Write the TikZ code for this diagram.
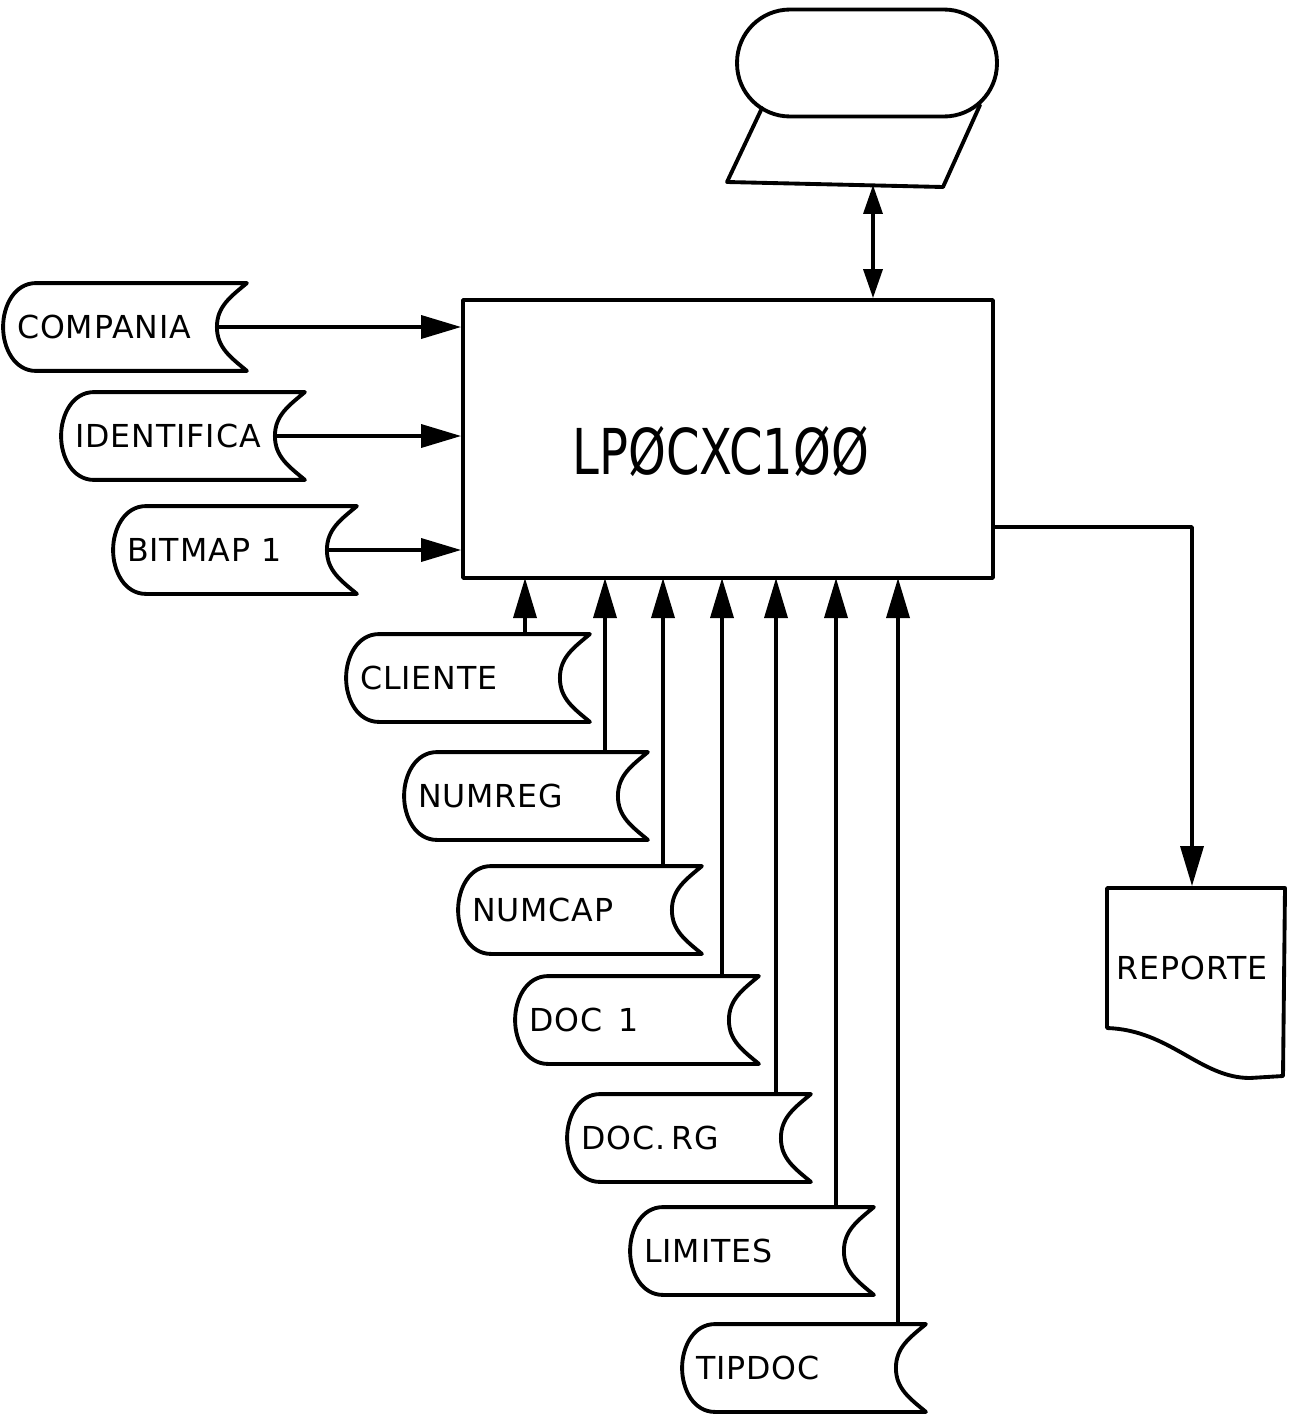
\documentclass[tikz,border=0pt]{standalone}
\usepackage{fontspec}
\usepackage{graphicx}
\newfontfamily\hand[LetterSpace=3]{DejaVu Sans}
\newfontfamily\handc{DejaVu Sans}
\usetikzlibrary{arrows.meta}
\newcommand\mystor[1]{%
 \draw ([xshift=0.66cm]#1.north west) -- (#1.north east)
   to[out=-140,in=90] ([xshift=-0.6cm]#1.east)
   to[out=-90,in=140] (#1.south east)
   -- ([xshift=0.66cm]#1.south west)
   to[out=180,in=-90] (#1.west)
   to[out=90,in=180] ([xshift=0.66cm]#1.north west);}
\begin{document}
\begin{tikzpicture}[x=0.02cm,y=-0.02cm,
  line width=2.2pt, line join=round, line cap=round,
  arr/.style={-{Triangle[length=0.8cm,width=0.46cm]}, line width=2pt},
  darr/.style={{Triangle[length=0.58cm,width=0.38cm]}-{Triangle[length=0.58cm,width=0.38cm]}, line width=2pt},
  stor/.style={minimum height=1.68cm, text width=4.32cm, inner xsep=0.24cm, inner ysep=0pt, align=left, font=\hand\fontsize{18}{20}\selectfont},
]
\useasboundingbox (0,0) rectangle (1295,1420);

% main process box
\node[draw, minimum width=10.6cm, minimum height=5.56cm] (box) at (728,439) {};
\node[font=\handc\fontsize{36}{40}\selectfont] (title) at (721,452) {\scalebox{0.76}[1]{LPØCXC1ØØ}};

% terminal + parallelogram (top)
\draw (762,108) -- (727,182) -- (943,187) -- (980,105);
\node[draw, minimum width=5.2cm, minimum height=2.14cm, rounded corners=1.06cm] (term) at (867,63) {};
\coordinate (pb) at (873,185);
\draw[darr] (pb) -- (box.north -| pb);

% left storages
\node[stor] (compania) at (125,327) {COMPANIA};
\node[stor] (identifica) at (183,436) {IDENTIFICA};
\node[stor] (bitmap) at (235,550) {BITMAP\hspace{0.35em}1};
\mystor{compania}
\mystor{identifica}
\mystor{bitmap}
\draw[arr] ([xshift=-0.6cm]compania.east) -- (compania.east -| box.west);
\draw[arr] ([xshift=-0.6cm]identifica.east) -- (identifica.east -| box.west);
\draw[arr] ([xshift=-0.6cm]bitmap.east) -- (bitmap.east -| box.west);

% bottom storages
\node[stor] (cliente) at (468,678) {CLIENTE};
\node[stor] (numreg) at (526,796) {NUMREG};
\node[stor] (numcap) at (580,910) {NUMCAP};
\node[stor] (doc1) at (637,1020) {DOC\hspace{0.5em}1};
\node[stor] (docrg) at (689,1138) {DOC.\hspace{0.2em}RG};
\node[stor] (limites) at (752,1251) {LIMITES};
\node[stor] (tipdoc) at (804,1368) {TIPDOC};
\foreach \n in {cliente,numreg,numcap,doc1,docrg,limites,tipdoc}{\mystor{\n}}

\coordinate (b1) at (525,578);
\coordinate (b2) at (605,578);
\coordinate (b3) at (663,578);
\coordinate (b4) at (722,578);
\coordinate (b5) at (776,578);
\coordinate (b6) at (836,578);
\coordinate (b7) at (898,578);
\draw[arr] (cliente.north -| b1) -- (b1);
\draw[arr] (numreg.north -| b2) -- (b2);
\draw[arr] (numcap.north -| b3) -- (b3);
\draw[arr] (doc1.north -| b4) -- (b4);
\draw[arr] (docrg.north -| b5) -- (b5);
\draw[arr] (limites.north -| b6) -- (b6);
\draw[arr] (tipdoc.north -| b7) -- (b7);

% report document
\node[minimum width=3.56cm, minimum height=3.2cm, font=\hand\fontsize{18}{20}\selectfont] (rep) at (1192,968) {REPORTE};
\draw (1283,1076) -- (1285,888) -- (1107,888) -- (1107,1028)
  .. controls (1170,1030) and (1200,1078) .. (1250,1078) -- cycle;
\coordinate (o1) at (993,527);
\draw[arr] (o1) -| (rep.north);
\end{tikzpicture}
\end{document}
